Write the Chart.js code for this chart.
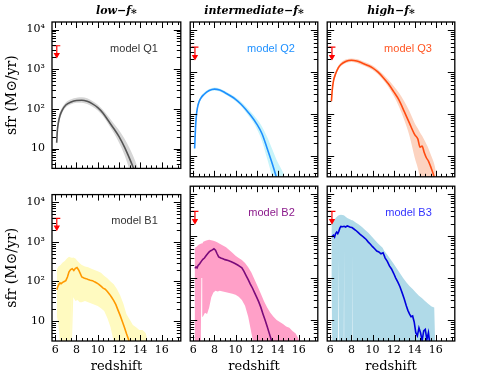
<!DOCTYPE html>
<html>
<head>
<meta charset="utf-8">
<script src="https://cdn.jsdelivr.net/npm/chart.js@4.4.0/dist/chart.umd.min.js"></script>
<style>
  html, body { margin: 0; padding: 0; background: #fff; }
  #wrap { position: relative; width: 480px; height: 382px; overflow: hidden; }
  #wrap canvas { position: absolute; }
</style>
</head>
<body>
<div id="wrap"></div>
<script>
// axes
const xTickValues = [6, 8, 10, 12, 14, 16]
const yTickValues = [10, 100, 1000, 10000]
const yTickLabels = ['10', '10²', '10³', '10⁴']
const columnTitles = ['low−f⁎', 'intermediate−f⁎', 'high−f⁎']
const modelNames = ['model Q1', 'model Q2', 'model Q3', 'model B1', 'model B2', 'model B3']

// observational upper limit (red arrow)
const limitZ = 6.15
const limitSfr = [3900, 2300]

// model Q1
const q1Z = [6.14, 6.2, 6.3, 6.45, 6.65, 7.0, 7.5, 8.0, 8.5, 9.0, 9.5, 10.0, 10.5, 11.0, 11.5, 12.0, 12.5, 13.0, 13.5, 13.9]
const q1Sfr = [14, 28, 45, 68, 92, 125, 150, 163, 165, 155, 134, 108, 78, 50, 32, 20, 11, 5.5, 2.6, 1.5]
const q1Lo = [5, 18, 34, 55, 78, 108, 130, 142, 143, 133, 114, 91, 65, 41, 25, 14, 7, 2.8, 1, 0.5]
const q1Hi = [20, 38, 56, 82, 108, 145, 175, 192, 197, 185, 158, 128, 94, 64, 43, 29, 18, 10, 5, 2.5]

// model Q2
const q2Z = [6.12, 6.2, 6.3, 6.45, 6.7, 7.0, 7.5, 8.0, 8.5, 9.0, 9.5, 10.0, 10.5, 11.0, 11.5, 12.0, 12.5, 13.0, 13.5, 14.0, 14.5, 14.8]
const q2Sfr = [15, 45, 100, 165, 235, 290, 360, 390, 370, 320, 270, 222, 172, 125, 88, 58, 34, 15, 6.3, 2.4, 0.9, 0.5]
const q2Lo = [6, 30, 80, 145, 212, 265, 335, 362, 342, 295, 247, 200, 153, 108, 73, 45, 23, 8.5, 3, 1, 0.4, 0.2]
const q2Hi = [25, 65, 125, 190, 260, 318, 392, 425, 405, 352, 298, 250, 196, 148, 108, 76, 50, 28, 14, 7, 4, 2.5]

// model Q3
const q3Z = [6.1, 6.18, 6.3, 6.5, 6.75, 7.0, 7.5, 8.0, 8.5, 9.0, 9.5, 10.0, 10.5, 11.0, 11.5, 12.0, 12.5, 13.0, 13.5, 14.0, 14.3, 14.5, 14.7, 14.9, 15.1, 15.3, 15.5, 15.8, 16.0]
const q3Sfr = [200, 370, 620, 900, 1250, 1500, 1800, 1900, 1820, 1640, 1450, 1250, 1000, 740, 520, 340, 215, 115, 60, 32, 25, 16, 17, 12, 9, 7.5, 5.6, 3.4, 2]
const q3Lo = [140, 290, 520, 790, 1120, 1360, 1640, 1730, 1640, 1470, 1300, 1110, 880, 640, 440, 270, 150, 72, 30, 9, 5, 3, 2, 1.5, 1, 0.8, 0.6, 0.4, 0.3]
const q3Hi = [260, 460, 740, 1040, 1400, 1680, 2000, 2100, 2020, 1830, 1630, 1420, 1150, 880, 650, 460, 320, 200, 115, 60, 45, 36, 30, 24, 19, 15, 11, 7, 4.5]

// model B1
const b1Z = [6.15, 6.25, 6.35, 6.45, 6.55, 6.7, 6.85, 7.0, 7.15, 7.3, 7.45, 7.6, 7.75, 7.9, 8.05, 8.2, 8.35, 8.5, 8.7, 8.9, 9.1, 9.3, 9.5, 9.7, 9.9, 10.1, 10.3, 10.5, 10.7, 10.9, 11.1, 11.3, 11.5, 11.7, 11.9, 12.1, 12.3, 12.5, 12.7, 12.9, 13.1]
const b1Sfr = [62, 75, 85, 92, 88, 95, 100, 105, 130, 175, 200, 210, 190, 215, 225, 195, 160, 130, 122, 118, 112, 108, 105, 98, 92, 85, 76, 68, 64, 56, 48, 40, 33, 26, 19, 14, 10, 7, 4.8, 3.4, 2.2]
const b1BandZ = [6.15, 6.3, 6.5, 6.7, 6.9, 7.1, 7.3, 7.45, 7.5, 7.55, 7.7, 7.9, 8.1, 8.3, 8.5, 8.8, 9.1, 9.4, 9.7, 10.0, 10.3, 10.6, 10.9, 11.2, 11.5, 11.8, 12.1, 12.4, 12.7, 13.0, 13.3, 13.6, 13.9, 14.2, 14.5, 14.7]
const b1Lo = [14, 8, 2, 2, 2, 2, 2, 2, 60, 2, 40, 32, 34, 30, 30, 32, 30, 28, 26, 24, 21, 18, 12, 7, 3, 2, 1, 1, 1, 1, 1, 1, 1, 1, 1, 1]
const b1Hi = [200, 240, 260, 300, 330, 380, 420, 400, 410, 390, 400, 380, 330, 290, 260, 240, 230, 210, 195, 180, 165, 140, 120, 100, 85, 65, 45, 28, 15, 11, 8, 7, 6, 6, 5, 3]

// model B2
const b2Z = [6.15, 6.25, 6.35, 6.45, 6.6, 6.75, 6.9, 7.05, 7.2, 7.35, 7.5, 7.65, 7.8, 7.95, 8.1, 8.25, 8.4, 8.6, 8.8, 9.0, 9.3, 9.6, 9.9, 10.2, 10.4, 10.6, 10.8, 11.0, 11.2, 11.4, 11.6, 11.8, 12.0, 12.2, 12.4, 12.6, 12.8, 13.0, 13.2, 13.4, 13.6]
const b2Sfr = [170, 185, 175, 200, 220, 250, 280, 300, 340, 380, 420, 450, 470, 500, 460, 380, 320, 300, 290, 275, 262, 245, 225, 205, 190, 175, 145, 115, 92, 72, 58, 45, 35, 27, 20, 14, 10, 7, 4.8, 3.3, 2.1]
const b2BandZ = [6.12, 6.3, 6.5, 6.7, 6.76, 6.84, 6.9, 7.1, 7.3, 7.5, 7.7, 7.9, 8.1, 8.3, 8.5, 8.8, 9.1, 9.4, 9.7, 10.0, 10.3, 10.6, 10.9, 11.2, 11.5, 11.8, 12.1, 12.4, 12.7, 13.0, 13.3, 13.6, 13.9, 14.2, 14.5, 14.8, 15.1, 15.4, 15.7, 16.0]
const b2Lo = [2, 2, 2, 2, 100, 100, 12, 15, 14, 20, 35, 45, 50, 48, 50, 48, 46, 44, 42, 40, 36, 30, 22, 12, 5, 2, 1, 1, 1, 1, 1, 1, 1, 1, 1, 1, 1, 1, 1, 1]
const b2Hi = [520, 560, 620, 660, 670, 680, 720, 770, 800, 820, 800, 780, 740, 700, 660, 600, 540, 470, 400, 340, 300, 270, 230, 180, 135, 92, 63, 42, 28, 20, 15, 12, 10, 9, 8, 7, 6.5, 5.5, 4.8, 3.5]

// model B3
const b3Z = [6.12, 6.2, 6.3, 6.4, 6.5, 6.6, 6.7, 6.8, 6.9, 7.0, 7.15, 7.3, 7.45, 7.6, 7.75, 7.9, 8.05, 8.2, 8.4, 8.6, 8.8, 9.0, 9.2, 9.4, 9.6, 9.8, 10.0, 10.2, 10.4, 10.6, 10.8, 11.0, 11.2, 11.4, 11.6, 11.8, 12.0, 12.2, 12.4, 12.6, 12.8, 13.0, 13.2, 13.35, 13.5, 13.65, 13.8, 13.95, 14.1, 14.25, 14.4, 14.55, 14.7, 14.85, 15.0, 15.15, 15.3, 15.45]
const b3Sfr = [950, 1000, 1050, 950, 1150, 1250, 1150, 1300, 1550, 1700, 1680, 1720, 1650, 1750, 1700, 1620, 1600, 1500, 1380, 1250, 1120, 1020, 920, 830, 720, 640, 560, 500, 440, 420, 380, 400, 300, 250, 195, 165, 130, 100, 80, 62, 45, 32, 22, 17, 14, 12, 12.5, 9, 5, 4.2, 6.5, 5, 3.2, 5.5, 6, 3.4, 5, 2.5]
const b3BandZ = [6.1, 6.2, 6.5, 6.72, 6.77, 6.82, 7.0, 7.26, 7.31, 7.36, 7.6, 8.04, 8.09, 8.14, 8.4, 8.7, 9.0, 9.3, 9.6, 9.9, 10.2, 10.5, 10.85, 10.9, 10.95, 11.1, 11.4, 11.7, 12.0, 12.3, 12.6, 12.9, 13.2, 13.5, 13.8, 14.1, 14.4, 14.7, 15.0, 15.3, 15.6, 15.85, 15.95]
const b3Lo = [100, 1, 1, 1, 300, 1, 1, 1, 550, 1, 1, 1, 400, 1, 1, 1, 1, 1, 1, 1, 1, 1, 1, 1, 1, 1, 1, 1, 1, 1, 1, 1, 1, 1, 1, 1, 1, 1, 1, 1, 1, 1, 1]
const b3Hi = [1900, 2100, 2700, 3050, 3100, 3150, 3250, 3150, 3100, 3000, 2700, 2400, 2400, 2350, 2100, 1900, 1650, 1400, 1200, 1000, 820, 680, 560, 540, 530, 450, 360, 280, 220, 170, 130, 100, 80, 65, 55, 45, 38, 33, 28, 24, 21, 20, 2]

const panels = [
  { z: q1Z, sfr: q1Sfr, bz: q1Z, lo: q1Lo, hi: q1Hi, line: '#555555', band: '#d6d6d6', label: '#333333', smooth: true },
  { z: q2Z, sfr: q2Sfr, bz: q2Z, lo: q2Lo, hi: q2Hi, line: '#1e8fff', band: '#c8f4fa', label: '#1e90ff', smooth: true },
  { z: q3Z, sfr: q3Sfr, bz: q3Z, lo: q3Lo, hi: q3Hi, line: '#ff4a10', band: '#fcd3c0', label: '#ff5522', smooth: true },
  { z: b1Z, sfr: b1Sfr, bz: b1BandZ, lo: b1Lo, hi: b1Hi, line: '#ff9900', band: '#fffac0', label: '#333333', smooth: false },
  { z: b2Z, sfr: b2Sfr, bz: b2BandZ, lo: b2Lo, hi: b2Hi, line: '#7a0a7a', band: '#ffa0c8', label: '#8b1a8b', smooth: false },
  { z: b3Z, sfr: b3Sfr, bz: b3BandZ, lo: b3Lo, hi: b3Hi, line: '#0000dd', band: '#b0dae8', label: '#3333ff', smooth: false },
]

// frame layout
const frameLefts = [52, 189, 326]
const frameW = 130
const serif = "'DejaVu Serif', serif"

const pts = (xs, ys) => xs.map((x, i) => ({ x: x, y: ys[i] }))

// inward ticks on all four sides + model name
const panelFrame = {
  id: 'panelFrame',
  afterDatasetsDraw(chart, args, opts) {
    const { ctx, chartArea: a, scales: { x, y } } = chart
    ctx.save()
    ctx.strokeStyle = '#000'
    ctx.lineWidth = 1
    ctx.beginPath()
    for (let v = 6; v <= 17.5; v += 0.5) {
      const px = Math.round(x.getPixelForValue(v)) + 0.5
      const len = v % 2 === 0 ? 6 : 3
      ctx.moveTo(px, a.bottom); ctx.lineTo(px, a.bottom - len)
      ctx.moveTo(px, a.top); ctx.lineTo(px, a.top + len)
    }
    for (let d = 1; d <= 10000; d *= 10) {
      for (let m = 1; m <= 9; m++) {
        const v = m * d
        if (v < y.min || v > y.max) continue
        const py = Math.round(y.getPixelForValue(v)) + 0.5
        const len = m === 1 ? 7 : 4
        ctx.moveTo(a.left, py); ctx.lineTo(a.left + len, py)
        ctx.moveTo(a.right, py); ctx.lineTo(a.right - len, py)
      }
    }
    ctx.stroke()
    ctx.lineWidth = 1.3
    ctx.strokeRect(a.left, a.top, a.right - a.left, a.bottom - a.top)
    ctx.fillStyle = opts.color
    ctx.font = "11px 'Liberation Sans', Arial, sans-serif"
    ctx.textAlign = 'right'
    ctx.textBaseline = 'middle'
    ctx.fillText(opts.label, a.right - 23, a.top + 26.5)
    ctx.restore()
  }
}

function makePanel(i, p) {
  const col = i % 3
  const row = Math.floor(i / 3)
  const fl = frameLefts[col]
  const left = col === 0 ? 0 : fl - 4
  const width = fl + frameW + 4 - left
  const top = row === 0 ? 0 : 181
  const height = row === 0 ? 182 : 201
  const cv = document.createElement('canvas')
  cv.width = width
  cv.height = height
  cv.style.left = left + 'px'
  cv.style.top = top + 'px'
  document.getElementById('wrap').appendChild(cv)

  const curve = p.smooth ? { tension: 0.4, cubicInterpolationMode: 'monotone' } : { tension: 0 }

  new Chart(cv, {
    type: 'line',
    data: {
      datasets: [
        Object.assign({ data: pts(p.z, p.sfr), borderColor: p.line, borderWidth: 1.6, pointRadius: 0, fill: false }, curve),
        {
          data: [{ x: limitZ, y: limitSfr[0] }, { x: limitZ, y: limitSfr[1] }],
          borderColor: '#ff0000', borderWidth: 1.2, fill: false,
          pointStyle: ['line', 'triangle'], pointRotation: [0, 180], pointRadius: [3.5, 2.5],
          pointBorderColor: '#ff0000', pointBackgroundColor: '#ff0000', pointBorderWidth: 1.2
        },
        Object.assign({ data: pts(p.bz, p.lo), borderColor: 'rgba(0,0,0,0)', borderWidth: 0, pointRadius: 0, fill: false }, curve),
        Object.assign({ data: pts(p.bz, p.hi), borderColor: 'rgba(0,0,0,0)', borderWidth: 0, pointRadius: 0, fill: '-1', backgroundColor: p.band }, curve),
      ]
    },
    options: {
      responsive: false,
      animation: false,
      devicePixelRatio: 1,
      events: [],
      layout: { padding: { left: col === 0 ? 0 : 4, right: 4, top: row === 0 ? 0 : 3.5, bottom: row === 0 ? 3.5 : 0 } },
      plugins: {
        legend: { display: false },
        tooltip: { enabled: false },
        title: {
          display: row === 0,
          fullSize: false,
          text: columnTitles[col],
          color: '#000',
          font: { family: serif, size: 11, style: 'italic', weight: 'bold' },
          padding: { top: 4.6, bottom: 4.2 }
        },
        panelFrame: { label: modelNames[i], color: p.label }
      },
      scales: {
        x: {
          type: 'linear', min: 5.7, max: 17.8, bounds: 'data',
          display: row === 1,
          grid: { display: false, drawTicks: false },
          border: { display: false },
          afterBuildTicks: s => { s.ticks = xTickValues.map(v => ({ value: v })) },
          afterFit: s => { s.height = row === 1 ? 41 : 0 },
          ticks: { color: '#000', font: { family: serif, size: 11 }, padding: 3, maxRotation: 0, autoSkip: false },
          title: { display: true, text: 'redshift', color: '#000', font: { family: serif, size: 13 }, padding: { top: 0, bottom: 7.2 } }
        },
        y: {
          type: 'logarithmic', min: 3.16, max: 15500, bounds: 'data',
          position: 'left',
          display: col === 0,
          grid: { display: false, drawTicks: false },
          border: { display: false },
          afterBuildTicks: s => { s.ticks = yTickValues.map(v => ({ value: v })) },
          afterFit: s => { s.width = col === 0 ? 52 : 0 },
          ticks: {
            color: '#000', font: { family: serif, size: 11 }, padding: 7, autoSkip: false,
            callback: v => yTickLabels[yTickValues.indexOf(v)]
          },
          title: { display: true, text: 'sfr (M⊙/yr)', color: '#000', font: { family: serif, size: 14 }, padding: { top: 4, bottom: 0 } }
        }
      }
    },
    plugins: [panelFrame]
  })
}

panels.forEach((p, i) => makePanel(i, p))
</script>
</body>
</html>
